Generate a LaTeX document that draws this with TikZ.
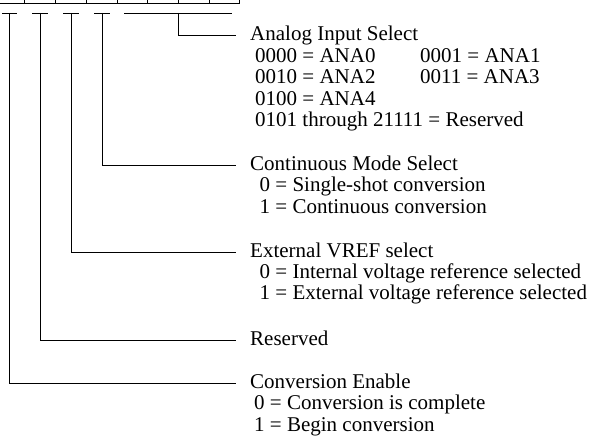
\documentclass[tikz,border=0pt]{standalone}
\usepackage{fontspec}
\setmainfont{Liberation Serif}
\begin{document}
\begin{tikzpicture}[x=1pt,y=-1pt,
  wire/.style={line width=0.8pt},
  lbl/.style={anchor=base west, inner sep=0pt, font=\fontsize{21}{25}\selectfont}]
\useasboundingbox (0,0) rectangle (595,436);
\clip (0,0) rectangle (595,436);
% register row (top cut off)
\draw[wire] (-7,-20) rectangle (239,3.3);
\foreach \x in {24,55,86,117,147,178,209} \draw[wire] (\x,-20) -- (\x,3.3);
% tee bars
\draw[wire] (2,13) -- (17,13);
\draw[wire] (32,13) -- (48,13);
\draw[wire] (63,13) -- (79,13);
\draw[wire] (94,13) -- (110,13);
\draw[wire] (124,13) -- (232,13);
\coordinate (b7) at (9.5,13);
\coordinate (b6) at (40,13);
\coordinate (b5) at (71,13);
\coordinate (b4) at (102,13);
\coordinate (b0) at (178,13);
% line ends
\coordinate (e0) at (236,35.7);
\coordinate (e4) at (236,165.7);
\coordinate (e5) at (236,252.5);
\coordinate (e6) at (236,340);
\coordinate (e7) at (236,383.3);
% labels
\node[lbl] (ais) at (250,41) {Analog Input Select};
\node[lbl] (a1) at (255,62.4) {0000 = ANA0};
\node[lbl] (a2) at (420,62.4) {0001 = ANA1};
\node[lbl] (a3) at (255,83.8) {0010 = ANA2};
\node[lbl] (a4) at (420,83.8) {0011 = ANA3};
\node[lbl] (a5) at (255,105.2) {0100 = ANA4};
\node[lbl] (a6) at (255,126.6) {0101 through 21111 = Reserved};
\node[lbl] (cms) at (250,170.5) {Continuous Mode Select};
\node[lbl] (c1) at (259.5,191.8) {0 = Single-shot conversion};
\node[lbl] (c2) at (259.5,213.1) {1 = Continuous conversion};
\node[lbl] (evs) at (250,257) {External VREF select};
\node[lbl] (v1) at (259.5,278.3) {0 = Internal voltage reference selected};
\node[lbl] (v2) at (259.5,299.6) {1 = External voltage reference selected};
\node[lbl] (res) at (250,345) {Reserved};
\node[lbl] (ce) at (250,388.5) {Conversion Enable};
\node[lbl] (ce1) at (254,409.8) {0 = Conversion is complete};
\node[lbl] (ce2) at (254,431.1) {1 = Begin conversion};
% connectors
\draw[wire] (b0) |- (e0);
\draw[wire] (b4) |- (e4);
\draw[wire] (b5) |- (e5);
\draw[wire] (b6) |- (e6);
\draw[wire] (b7) |- (e7);
\end{tikzpicture}
\end{document}
